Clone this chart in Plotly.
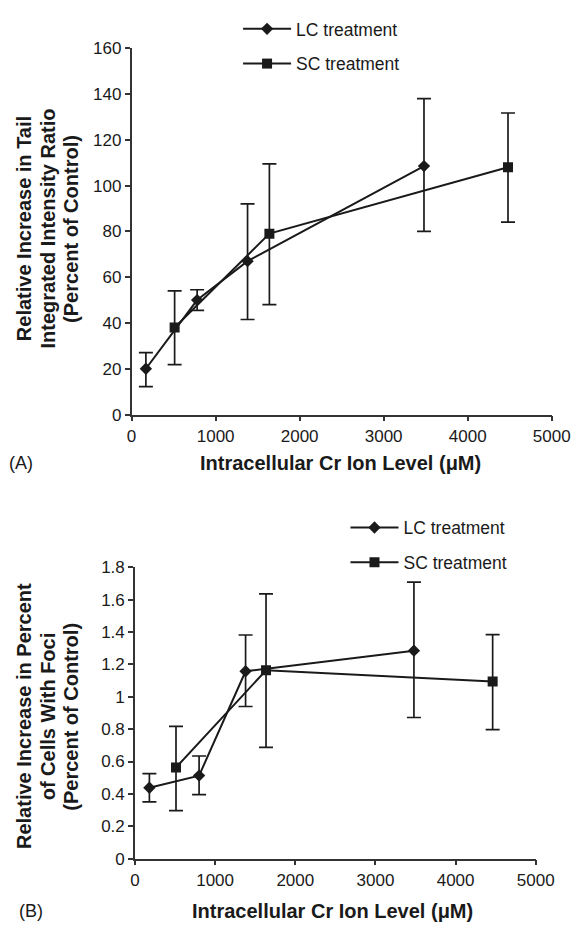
import plotly.graph_objects as go

# ---------------- data ----------------
# Panel A: tail integrated intensity ratio
a_lc_x = [170, 780, 1380, 3480]
a_lc_y = [20, 50, 67, 108.5]
a_lc_up = [7, 4.5, 25, 29.5]
a_lc_dn = [7.8, 4.5, 25.5, 28.5]

a_sc_x = [512, 1640, 4480]
a_sc_y = [38, 79, 108]
a_sc_up = [16, 30.5, 23.7]
a_sc_dn = [16.2, 31, 24]

# Panel B: percent of cells with foci
b_lc_x = [180, 800, 1380, 3480]
b_lc_y = [0.438, 0.513, 1.158, 1.285]
b_lc_up = [0.087, 0.121, 0.224, 0.424]
b_lc_dn = [0.087, 0.118, 0.218, 0.413]

b_sc_x = [512, 1635, 4462]
b_sc_y = [0.563, 1.164, 1.094]
b_sc_up = [0.254, 0.472, 0.29]
b_sc_dn = [0.266, 0.476, 0.297]

series_names = ["LC treatment", "SC treatment"]
x_title = "Intracellular Cr Ion Level (μM)"
ya_title = ["Relative Increase in Tail", "Integrated Intensity Ratio", "(Percent of Control)"]
yb_title = ["Relative Increase in Percent", "of Cells With Foci", "(Percent of Control)"]
panel_labels = ["(A)", "(B)"]

FONT = "Liberation Sans, Arial, sans-serif"
INK = "#1a1a1a"
W, H = 587, 931

fig = go.Figure()


def add(x, y, up, dn, name, symbol, size, xa, ya, legend):
    fig.add_trace(go.Scatter(
        x=x, y=y, name=name, mode="lines+markers",
        line=dict(color=INK, width=2),
        marker=dict(symbol=symbol, size=size, color=INK),
        error_y=dict(type="data", array=up, arrayminus=dn, symmetric=False,
                     color=INK, thickness=1.7, width=7),
        xaxis=xa, yaxis=ya, legend=legend, legendgroup=legend + name,
        hoverinfo="skip",
    ))


add(a_lc_x, a_lc_y, a_lc_up, a_lc_dn, series_names[0], "diamond", 9.5, "x", "y", "legend")
add(a_sc_x, a_sc_y, a_sc_up, a_sc_dn, series_names[1], "square", 10, "x", "y", "legend")
add(b_lc_x, b_lc_y, b_lc_up, b_lc_dn, series_names[0], "diamond", 9.5, "x2", "y2", "legend2")
add(b_sc_x, b_sc_y, b_sc_up, b_sc_dn, series_names[1], "square", 10, "x2", "y2", "legend2")


def px_x(p):
    return p / W


def px_y(p):
    return 1 - p / H


axis_common = dict(showline=True, linecolor="#333", linewidth=1.5, ticks="outside",
                   ticklen=5, tickwidth=1.5, tickcolor="#333", showgrid=False,
                   zeroline=False, tickfont=dict(family=FONT, size=17, color=INK))

legend_common = dict(xanchor="left", yanchor="top", bgcolor="rgba(0,0,0,0)",
                     traceorder="grouped", tracegroupgap=9, itemwidth=48,
                     font=dict(family=FONT, size=17.5, color=INK))

fig.update_layout(
    width=W, height=H,
    margin=dict(l=0, r=0, t=0, b=0),
    paper_bgcolor="white", plot_bgcolor="white",
    showlegend=True, hovermode=False,
    xaxis=dict(domain=[px_x(132), px_x(570)], range=[0, 5000], dtick=1000,
               anchor="y", **axis_common),
    yaxis=dict(domain=[px_y(414), px_y(40)], range=[0, 160], dtick=20,
               anchor="x", **axis_common),
    xaxis2=dict(domain=[px_x(135.5), px_x(553.4)], range=[0, 5000], dtick=1000,
                anchor="y2", **axis_common),
    yaxis2=dict(domain=[px_y(867.3), px_y(570)], range=[0, 1.8], dtick=0.2,
                anchor="x2", **axis_common),
    legend=dict(x=px_x(243), y=px_y(2), **legend_common),
    legend2=dict(x=px_x(355), y=px_y(511), **legend_common),
)

title_font = dict(family=FONT, size=20, color=INK)
label_font = dict(family=FONT, size=18, color=INK)

line_x = [20.6, 44.9, 69.3]
for lines, yc in ((ya_title, 224), (yb_title, 722)):
    for txt, lx in zip(lines, line_x):
        fig.add_annotation(text="<b>" + txt + "</b>", x=px_x(lx), y=px_y(yc),
                           xref="paper", yref="paper", textangle=-90, showarrow=False,
                           font=title_font, xanchor="center", yanchor="middle")

for xc, yc in ((350, 463), (341, 921)):
    fig.add_annotation(text="<b>" + x_title + "</b>", x=px_x(xc), y=px_y(yc),
                       xref="paper", yref="paper", showarrow=False, font=title_font,
                       xanchor="center", yanchor="middle")

for txt, xl, yc in ((panel_labels[0], 2, 463), (panel_labels[1], 12, 921)):
    fig.add_annotation(text=txt, x=px_x(xl), y=px_y(yc), xref="paper", yref="paper",
                       showarrow=False, font=label_font, xanchor="left", yanchor="middle")

fig.write_html("out.html", config={"displayModeBar": False},
               post_script="document.body.style.margin='0px';document.body.style.overflow='hidden';")
